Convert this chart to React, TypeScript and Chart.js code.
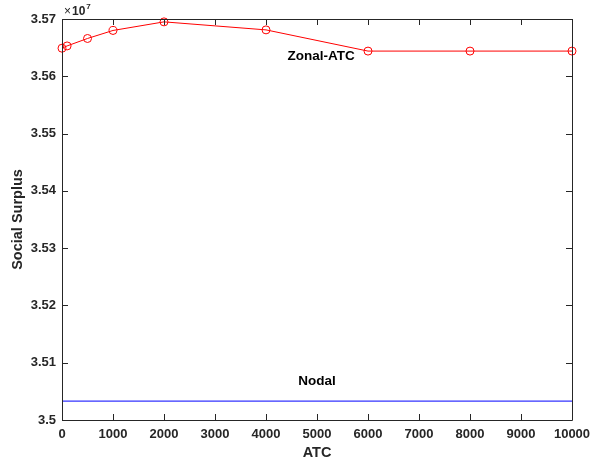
import React, { useEffect, useRef } from "react";
import { Chart, registerables } from "chart.js";

Chart.register(...registerables);

const atc = [0, 100, 500, 1000, 2000, 4000, 6000, 8000, 10000];
const zonalSurplus = [3.5649, 3.5653, 3.5666, 3.568, 3.5695, 3.5681, 3.5644, 3.5644, 3.5644];
const nodalX = [0, 10000];
const nodalSurplus = [3.5033, 3.5033];
const xTicks = [0, 1000, 2000, 3000, 4000, 5000, 6000, 7000, 8000, 9000, 10000];
const yTicks = [3.5, 3.51, 3.52, 3.53, 3.54, 3.55, 3.56, 3.57];
const annotations = [
  { text: "Zonal-ATC", x: 5080, y: 3.5635 },
  { text: "Nodal", x: 5000, y: 3.5068 },
];

const AXIS = "#262626";
const FONT = "'Liberation Sans', Arial, sans-serif";

const boxPlugin = {
  id: "matlabBox",
  afterDraw(chart: any) {
    const { ctx, chartArea } = chart;
    const { left, right, top, bottom } = chartArea;
    const xs = chart.scales.x;
    const ys = chart.scales.y;
    ctx.save();
    // annotations
    ctx.fillStyle = "#000";
    ctx.font = `bold 13.5px ${FONT}`;
    ctx.textAlign = "center";
    ctx.textBaseline = "middle";
    annotations.forEach((a) => {
      ctx.fillText(a.text, xs.getPixelForValue(a.x), ys.getPixelForValue(a.y));
    });
    // box
    ctx.strokeStyle = AXIS;
    ctx.lineWidth = 1;
    ctx.beginPath();
    ctx.rect(Math.round(left) + 0.5, Math.round(top) + 0.5, Math.round(right - left), Math.round(bottom - top));
    ctx.stroke();
    // ticks inward
    const tl = 6;
    ctx.beginPath();
    xTicks.forEach((v) => {
      const px = Math.round(xs.getPixelForValue(v)) + 0.5;
      ctx.moveTo(px, bottom);
      ctx.lineTo(px, bottom - tl);
      ctx.moveTo(px, top);
      ctx.lineTo(px, top + tl);
    });
    yTicks.forEach((v) => {
      const py = Math.round(ys.getPixelForValue(v)) + 0.5;
      ctx.moveTo(left, py);
      ctx.lineTo(left + tl, py);
      ctx.moveTo(right, py);
      ctx.lineTo(right - tl, py);
    });
    ctx.stroke();
    // exponent label
    ctx.fillStyle = AXIS;
    ctx.textAlign = "left";
    ctx.textBaseline = "alphabetic";
    ctx.font = `12px ${FONT}`;
    ctx.fillText("\u00d7", left + 2, top - 4);
    let w = ctx.measureText("\u00d7").width;
    ctx.font = `bold 12px ${FONT}`;
    ctx.fillText("10", left + 2 + w + 1, top - 4);
    w += 1 + ctx.measureText("10").width;
    ctx.font = `bold 8px ${FONT}`;
    ctx.fillText("7", left + 2 + w + 1, top - 10);
    ctx.restore();
  },
};

export default function App() {
  const ref = useRef<HTMLCanvasElement | null>(null);
  useEffect(() => {
    document.body.style.margin = "0";
    const chart = new Chart(ref.current as HTMLCanvasElement, {
      type: "line",
      data: {
        datasets: [
          {
            label: "Zonal-ATC",
            data: atc.map((x, i) => ({ x, y: zonalSurplus[i] })),
            borderColor: "#ff0000",
            backgroundColor: "rgba(0,0,0,0)",
            borderWidth: 1,
            pointRadius: 4,
            pointBorderWidth: 1,
            pointBorderColor: "#ff0000",
            pointBackgroundColor: "rgba(0,0,0,0)",
            tension: 0,
            clip: false,
          },
          {
            label: "Nodal",
            data: nodalX.map((x, i) => ({ x, y: nodalSurplus[i] })),
            borderColor: "#0000ff",
            borderWidth: 1,
            pointRadius: 0,
            tension: 0,
            clip: false,
          },
        ],
      },
      options: {
        animation: false,
        responsive: false,
        maintainAspectRatio: false,
        layout: { padding: { left: 0, right: 31, top: 19, bottom: 0 } },
        plugins: { legend: { display: false }, tooltip: { enabled: false } },
        scales: {
          x: {
            type: "linear",
            min: 0,
            max: 10000,
            afterBuildTicks: (s: any) => {
              s.ticks = xTicks.map((v) => ({ value: v }));
            },
            afterFit: (s: any) => {
              s.height = 45;
            },
            grid: { display: false, drawTicks: false },
            border: { display: false },
            ticks: {
              color: AXIS,
              font: { family: FONT, size: 13, weight: "bold" },
              padding: 7,
              maxRotation: 0,
              autoSkip: false,
              callback: (v: any) => String(v),
            },
            title: {
              display: true,
              text: "ATC",
              color: AXIS,
              font: { family: FONT, size: 14.5, weight: "bold" },
              padding: { top: 0, bottom: 3 },
            },
          },
          y: {
            type: "linear",
            min: 3.5,
            max: 3.57,
            afterBuildTicks: (s: any) => {
              s.ticks = yTicks.map((v) => ({ value: v }));
            },
            afterFit: (s: any) => {
              s.width = 62;
            },
            grid: { display: false, drawTicks: false },
            border: { display: false },
            ticks: {
              color: AXIS,
              font: { family: FONT, size: 13, weight: "bold" },
              padding: 6,
              autoSkip: false,
              callback: (v: any) => String(Number(Number(v).toFixed(2))),
            },
            title: {
              display: true,
              text: "Social Surplus",
              color: AXIS,
              font: { family: FONT, size: 14.5, weight: "bold" },
              padding: { top: 9, bottom: 0 },
            },
          },
        },
      },
      plugins: [boxPlugin],
    } as any);
    return () => chart.destroy();
  }, []);
  return (
    <div style={{ width: 603, height: 465, background: "#fff" }}>
      <canvas ref={ref} width={603} height={465} style={{ display: "block" }} />
    </div>
  );
}
